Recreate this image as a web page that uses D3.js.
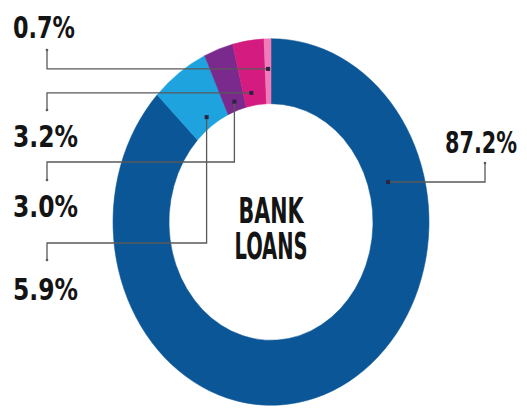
<!DOCTYPE html>
<html><head><meta charset="utf-8">
<script src="https://cdn.jsdelivr.net/npm/d3@7"></script>
<style>
html,body{margin:0;padding:0;background:#fff;}
text{font-family:"Liberation Sans Narrow","DejaVu Sans Condensed","Roboto",sans-serif;font-weight:bold;fill:#141414;}
</style></head>
<body>
<svg id="c" width="527" height="411"></svg>
<script>
// Data
const labels = ["87.2%", "5.9%", "3.0%", "3.2%", "0.7%"];
const values = [87.2, 5.9, 3.0, 3.2, 0.7];
const colors = ["#0b5697", "#1ea3df", "#7a2a8c", "#d41b7f", "#f27ab8"];
const centerLines = ["BANK", "LOANS"];

// Layout
const cx = 271, cy = 222, yScale = 1.16;
const rOuter = 158, rInner = 102;

// Leader anchors (fraction within arc span, radius) and label positions
const anchorT = [0.2345, 0.5, 0.5, 0.35, 0.5];
const anchorR = [122, 111, 110, 113, 132];
const elbowY  = [182, 243, 162, null, null];   // horizontal run y (null = at anchor y)
const tickEndX = [485, 47, 47, 47, 47];
const tickEndY = [163, 260, 180, 110, 50];
const labelX = [445, 13, 13, 13, 13];
const labelY = [153, 300, 217, 147, 38];
const labelW = [72, 65, 65, 65, 62];

const svg = d3.select("#c");
svg.append("rect").attr("width", 527).attr("height", 411).attr("fill", "#fff");

const pie = d3.pie().sort(null).value(d => d).startAngle(0).endAngle(2 * Math.PI);
const arcs = pie(values);
const arc = d3.arc().innerRadius(rInner).outerRadius(rOuter);

const g = svg.append("g").attr("transform", `translate(${cx},${cy}) scale(1,${yScale})`);
g.selectAll("path").data(arcs).join("path")
  .attr("d", arc)
  .attr("fill", (d, i) => colors[i])
  .attr("stroke", (d, i) => colors[i])
  .attr("stroke-width", 0.5);

// leader lines
arcs.forEach((d, i) => {
  const a = d.startAngle + (d.endAngle - d.startAngle) * anchorT[i];
  const ax = cx + anchorR[i] * Math.sin(a);
  const ay = cy - anchorR[i] * Math.cos(a) * yScale;
  const ey = elbowY[i] == null ? ay : elbowY[i];
  const pts = [[ax, ay], [ax, ey], [tickEndX[i], ey], [tickEndX[i], tickEndY[i]]];
  svg.append("path")
    .attr("d", d3.line()(pts))
    .attr("fill", "none")
    .attr("stroke", "#5a5a5a")
    .attr("stroke-width", 1.3);
  svg.append("rect").attr("x", ax - 2).attr("y", ay - 2).attr("width", 4).attr("height", 4)
    .attr("fill", "#2a2440");
  svg.append("circle").attr("cx", tickEndX[i]).attr("cy", tickEndY[i]).attr("r", 1.3)
    .attr("fill", "#5a5a5a");
  svg.append("text")
    .attr("x", labelX[i]).attr("y", labelY[i])
    .attr("font-size", 30)
    .attr("textLength", labelW[i])
    .attr("lengthAdjust", "spacingAndGlyphs")
    .text(labels[i]);
});

// center text (one text element, two lines)
const ct = svg.append("text").attr("text-anchor", "middle");
ct.append("tspan").attr("x", cx).attr("y", 223)
  .attr("font-size", 36).attr("textLength", 65).attr("lengthAdjust", "spacingAndGlyphs")
  .text(centerLines[0]);
ct.append("tspan").attr("x", cx).attr("y", 259)
  .attr("font-size", 37).attr("textLength", 73).attr("lengthAdjust", "spacingAndGlyphs")
  .text(centerLines[1]);
</script>
</body></html>
